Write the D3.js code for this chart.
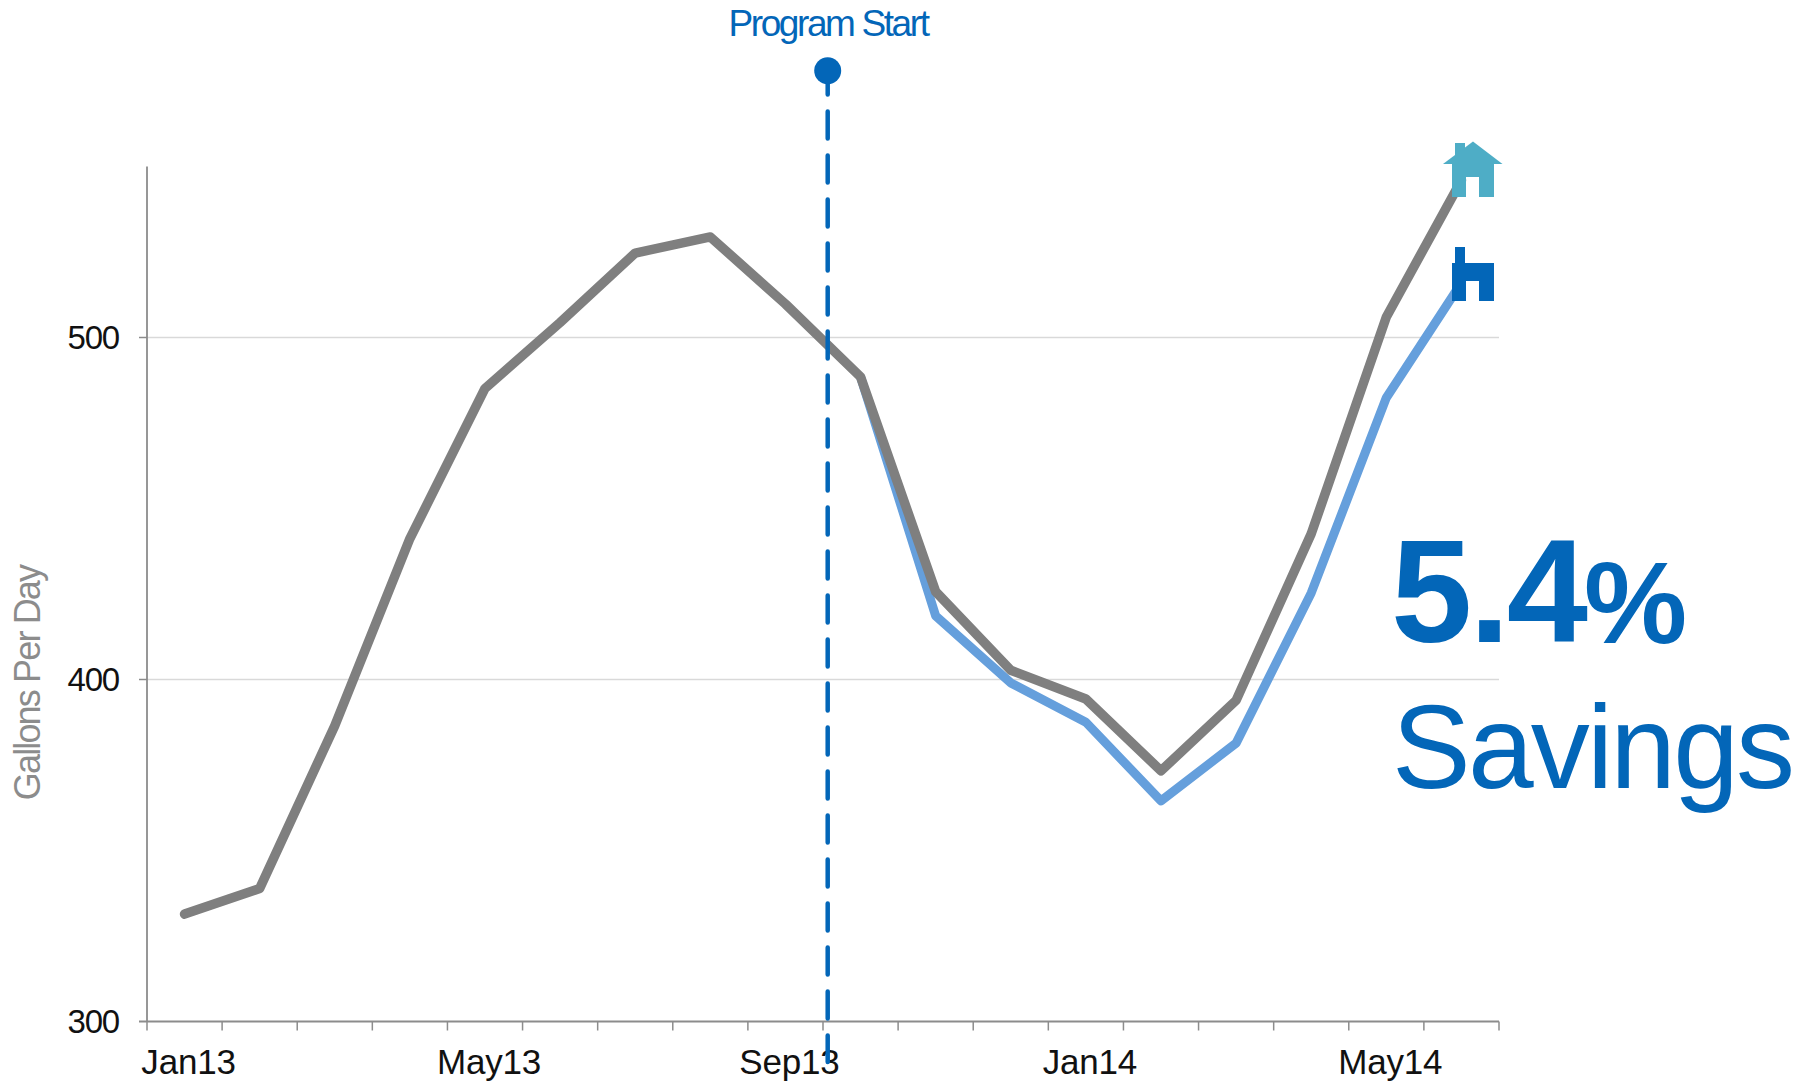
<!DOCTYPE html>
<html><head><meta charset="utf-8">
<script src="https://cdn.jsdelivr.net/npm/d3@7"></script>
<style>html,body{margin:0;background:#fff}svg{display:block}text{font-family:"Liberation Sans",Arial,sans-serif}</style>
</head><body><svg id="c" width="1812" height="1083"></svg>
<script>
const months=["Jan13","Feb13","Mar13","Apr13","May13","Jun13","Jul13","Aug13","Sep13","Oct13","Nov13","Dec13","Jan14","Feb14","Mar14","Apr14","May14","Jun14"];
const baseline=[331.4,338.9,386.5,441.2,485.1,504.4,524.7,529.4,509.8,488.5,425.7,402.7,394.3,373.3,393.9,442.6,506,546];
const actual=[null,null,null,null,null,null,null,null,null,488.5,418.6,399,387.5,364.5,381.4,425.3,482.4,516];
const yTicks=[300,400,500];
const xLabels=["Jan13","May13","Sep13","Jan14","May14"];
const svg=d3.select("#c");
const x=d3.scaleBand().domain(months).range([147,1499]);
const y=d3.scaleLinear().domain([300,550]).range([1021.5,166.5]);
const blue="#0366b8",grey="#7f7f7f",axisC="#8c8c8c";
// grid
svg.append("g").selectAll("line").data(yTicks.slice(1)).join("line")
 .attr("x1",x.range()[0]).attr("x2",x.range()[1]).attr("y1",d=>y(d)).attr("y2",d=>y(d)).attr("stroke","#d9d9d9").attr("stroke-width",1.5);
// axes
const ax=svg.append("g").attr("transform",`translate(0,${y(300)})`);
const edges=d3.range(months.length+1).map(i=>x.range()[0]+i*x.bandwidth());
ax.append("line").attr("x1",x.range()[0]-8).attr("x2",x.range()[1]).attr("stroke",axisC).attr("stroke-width",1.8);
ax.selectAll(".t").data(edges).join("line").attr("x1",d=>d).attr("x2",d=>d).attr("y2",9).attr("stroke",axisC).attr("stroke-width",1.5);
svg.append("line").attr("x1",147).attr("x2",147).attr("y1",y.range()[1]).attr("y2",y(300)).attr("stroke",axisC).attr("stroke-width",1.8);
svg.selectAll(".yt").data(yTicks.slice(1)).join("line").attr("x1",139).attr("x2",147).attr("y1",d=>y(d)).attr("y2",d=>y(d)).attr("stroke",axisC).attr("stroke-width",1.5);
svg.selectAll(".yl").data(yTicks).join("text").attr("x",119).attr("y",d=>y(d)+11).attr("text-anchor","end")
 .attr("font-size",33).attr("letter-spacing",-1.2).attr("fill","#111").text(d=>d);
svg.selectAll(".xl").data(xLabels).join("text").attr("x",d=>x(d)+x.bandwidth()/2+4).attr("y",1074).attr("text-anchor","middle")
 .attr("font-size",35).attr("letter-spacing",-0.2).attr("fill","#111").text(d=>d);
svg.append("text").attr("transform",`translate(40,683) rotate(-90)`).attr("text-anchor","middle").attr("font-size",36).attr("letter-spacing",-1.85).attr("fill","#8c8c8c").text("Gallons Per Day");
// lines
const line=d3.line().defined(d=>d!=null).x((d,i)=>x(months[i])+x.bandwidth()/2).y(d=>y(d));
svg.append("path").attr("d",line(actual)).attr("fill","none").attr("stroke","#659fdc").attr("stroke-width",9).attr("stroke-linejoin","round");
svg.append("path").attr("d",line(baseline)).attr("fill","none").attr("stroke",grey).attr("stroke-width",9.5).attr("stroke-linecap","round").attr("stroke-linejoin","round");
// start marker
const sx=827.7;
svg.append("line").attr("x1",sx).attr("x2",sx).attr("y1",67.5).attr("y2",1062).attr("stroke",blue).attr("stroke-width",4.5).attr("stroke-linecap","round").attr("stroke-dasharray","27 17");
svg.append("circle").attr("cx",sx).attr("cy",70.7).attr("r",13.5).attr("fill",blue);
svg.append("text").attr("x",828).attr("y",35.5).attr("text-anchor","middle").attr("font-size",37).attr("letter-spacing",-2.4).attr("fill",blue).text("Program Start");
// houses
function house(cy,col,roof){const g=svg.append("g").attr("fill",col);
 if(roof)g.append("path").attr("d","M1443,164L1473,141.5L1502.5,164Z");
 g.append("path").attr("d",`M1455,${cy-54}H1465V${cy-30}H1455Z`);
 g.append("path").attr("d",`M1452,${cy-38}H1494V${cy}H1479V${cy-20}H1466V${cy}H1452Z`);}
house(197,"#4eadc6",true);
house(301,blue,false);
// callout
const t=svg.append("text").attr("x",1391).attr("y",641.5).attr("fill",blue).attr("font-weight","bold").attr("font-size",146).attr("letter-spacing",-3).text("5.4");
t.append("tspan").attr("dx",-1).attr("dy",1).attr("font-size",116).attr("letter-spacing",0).text("%");
svg.append("text").attr("x",1392).attr("y",788).attr("fill",blue).attr("font-size",118).attr("letter-spacing",-2.8).text("Savings");
</script></body></html>
